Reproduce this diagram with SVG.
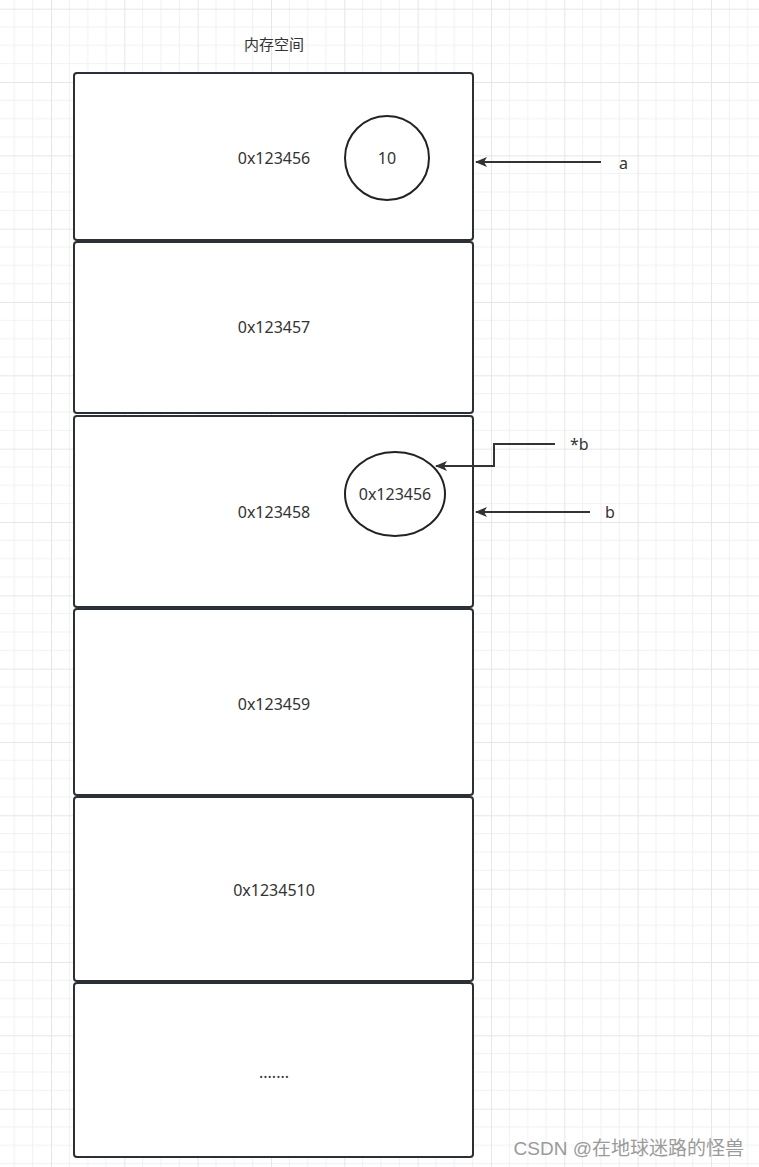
<svg xmlns="http://www.w3.org/2000/svg" width="759" height="1167" viewBox="0 0 759 1167">
<style>
.box{fill:#ffffff;stroke:#2b2f36;stroke-width:2}
.lbl{font-family:"Noto Sans","Open Sans","Noto Sans CJK SC",sans-serif;font-size:16px;fill:#333333;text-anchor:middle;dominant-baseline:central}
.side{font-family:"Noto Sans","Open Sans",sans-serif;font-size:16px;fill:#333333;dominant-baseline:central}
.edge{fill:none;stroke:#333333;stroke-width:2}
.ell{fill:#ffffff;stroke:#222222;stroke-width:2}
</style>
<defs>
<pattern id="grid" x="-22.33" y="8.67" width="73.33" height="73.33" patternUnits="userSpaceOnUse">
<path d="M18.33 0V73.33M36.67 0V73.33M55 0V73.33M0 18.33H73.33M0 36.67H73.33M0 55H73.33" stroke="#f1f1f1" stroke-width="1" fill="none"/>
<path d="M0.5 0V73.33M0 0.5H73.33" stroke="#e6e6e6" stroke-width="1" fill="none"/>
</pattern>
<marker id="arr" markerWidth="12" markerHeight="10" refX="11" refY="5" orient="auto" markerUnits="userSpaceOnUse">
<path d="M0 0L12 5L0 10L3 5Z" fill="#333333"/>
</marker>
</defs>
<rect width="759" height="1167" fill="#ffffff"/>
<rect width="759" height="1167" fill="url(#grid)"/>
<text class="lbl" x="274" y="44" style="font-size:15px">内存空间</text>
<g id="mem1"><rect class="box" x="74" y="73" width="399" height="167" rx="3"/><text class="lbl" x="274" y="158">0x123456</text></g>
<g id="mem2"><rect class="box" x="74" y="242" width="399" height="171" rx="3"/><text class="lbl" x="274" y="327">0x123457</text></g>
<g id="mem3"><rect class="box" x="74" y="416" width="399" height="191" rx="3"/><text class="lbl" x="274" y="512">0x123458</text></g>
<g id="mem4"><rect class="box" x="74" y="609" width="399" height="186" rx="3"/><text class="lbl" x="274" y="704">0x123459</text></g>
<g id="mem5"><rect class="box" x="74" y="797" width="399" height="184" rx="3"/><text class="lbl" x="274" y="890">0x1234510</text></g>
<g id="mem6"><rect class="box" x="74" y="983" width="399" height="174" rx="3"/><text class="lbl" x="274" y="1072">.......</text></g>
<g id="val10"><ellipse class="ell" cx="387" cy="158" rx="42" ry="42"/><text class="lbl" x="387" y="158">10</text></g>
<g id="valptr"><ellipse class="ell" cx="395" cy="494" rx="50" ry="42"/><text class="lbl" x="395" y="494">0x123456</text></g>
<g id="connectors">
<path class="edge" d="M601 162H476" marker-end="url(#arr)"/>
<path class="edge" d="M555 444H494V466H436" marker-end="url(#arr)"/>
<path class="edge" d="M590 512H476" marker-end="url(#arr)"/>
</g>
<g id="labels">
<text class="side" x="619" y="163">a</text>
<text class="side" x="570" y="444">*b</text>
<text class="side" x="605" y="512">b</text>
</g>
<text x="744" y="1148" text-anchor="end" dominant-baseline="central" style="font-family:'Liberation Sans','Noto Sans CJK SC',sans-serif;font-size:19px;fill:#9a9a9a">CSDN @在地球迷路的怪兽</text>
</svg>
